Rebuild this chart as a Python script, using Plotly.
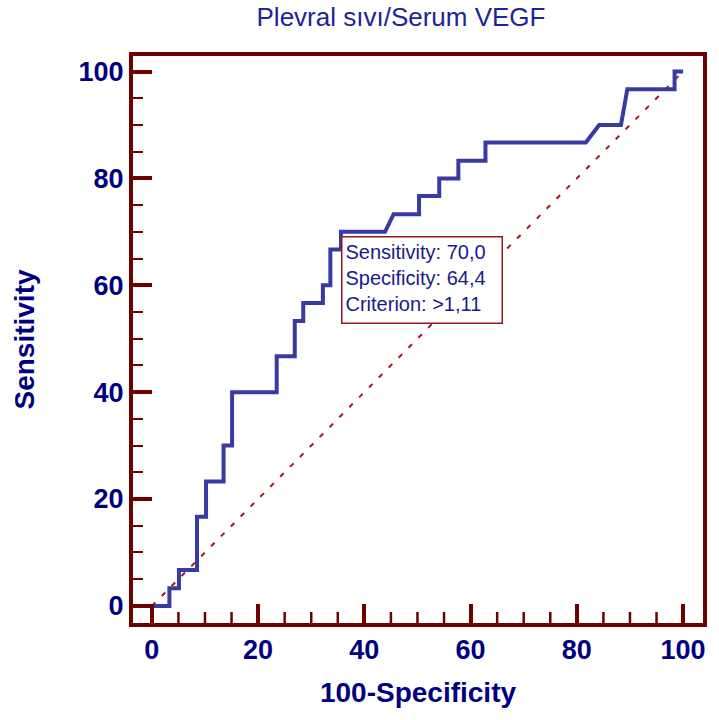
import plotly.graph_objects as go

# ROC curve (100-Specificity vs Sensitivity)
fpr = [0, 3.3, 3.3, 5.1, 5.1, 8.5, 8.5, 10.2, 10.2, 13.5, 13.5, 15.1, 15.1,
       23.5, 23.5, 26.9, 26.9, 28.5, 28.5, 32.2, 32.2, 33.6, 33.6, 35.6, 35.6,
       43.9, 45.5, 50.3, 50.3, 54.1, 54.1, 57.7, 57.7, 62.8, 62.8, 81.7, 84.2,
       88.3, 88.9, 89.5, 98.4, 98.4, 100]
tpr = [0, 0, 3.3, 3.3, 6.7, 6.7, 16.7, 16.7, 23.3, 23.3, 30, 30, 40,
       40, 46.7, 46.7, 53.3, 53.3, 56.7, 56.7, 60, 60, 66.7, 66.7, 70,
       70, 73.3, 73.3, 76.7, 76.7, 80, 80, 83.3, 83.3, 86.7, 86.7, 90,
       90, 93.3, 96.7, 96.7, 100, 100]

ref_x = [0, 100]
ref_y = [0, 100]

crit_sens = 70.0
crit_spec = 64.4
crit_label = ">1,11"

tick_vals = [0, 20, 40, 60, 80, 100]
minor_vals = [5, 10, 15, 25, 30, 35, 45, 50, 55, 65, 70, 75, 85, 90, 95]

title_text = "Plevral sıvı/Serum VEGF"
x_title = "100-Specificity"
y_title = "Sensitivity"

FRAME = "#6e0000"
NAVY = "#000080"
CURVE = "#3a3aa4"

X_RANGE = [-3.55, 103.75]
Y_RANGE = [-3.2, 102.9]
PLOT_H = 720 - 56 - 97
MINOR_LEN = 11

fig = go.Figure()
fig.add_trace(go.Scatter(x=ref_x, y=ref_y, mode="lines",
                         line=dict(color="#9b1a1a", width=2, dash="5px,9px"),
                         hoverinfo="skip", showlegend=False))
fig.add_trace(go.Scatter(x=fpr, y=tpr, mode="lines",
                         line=dict(color=CURVE, width=4),
                         showlegend=False))

# minor tick marks on the x axis (inside, every 5 units)
for v in minor_vals:
    fig.add_shape(type="line", xref="x", yref="paper", x0=v, x1=v,
                  y0=0, y1=MINOR_LEN / PLOT_H, line=dict(color=FRAME, width=2.5),
                  layer="above")

fmt = lambda v: f"{v:.1f}".replace(".", ",")
fig.add_annotation(
    x=100 - crit_spec, y=crit_sens, xref="x", yref="y",
    xanchor="left", yanchor="top", showarrow=False,
    text=(f"Sensitivity: {fmt(crit_sens)}<br>Specificity: {fmt(crit_spec)}"
          f"<br>Criterion: {crit_label.replace('>', '&gt;')}"),
    align="left", valign="top", width=153, height=79,
    borderpad=3, borderwidth=1.5, bordercolor="#8b1a1a", bgcolor="white",
    font=dict(family="Liberation Sans", size=20, color="#1a1a8c"),
    yshift=-4,
)

axis_common = dict(
    showgrid=False, zeroline=False, showline=True, mirror=True,
    linecolor=FRAME, linewidth=4,
    ticks="inside", ticklen=19, tickwidth=4, tickcolor=FRAME,
    tickvals=tick_vals,
    tickfont=dict(family="Liberation Sans", size=27, color=NAVY, weight=700),
)

fig.update_layout(
    width=719, height=720,
    margin=dict(l=133, r=13, t=56, b=97),
    plot_bgcolor="white", paper_bgcolor="white",
    title=dict(text=title_text, x=401 / 719, xanchor="center", y=1 - 17 / 720, yanchor="middle",
               font=dict(family="Liberation Sans", size=26, color="#22229a")),
    xaxis=dict(range=X_RANGE,
               title=dict(text=x_title, standoff=19,
                          font=dict(family="Liberation Sans", size=28, color=NAVY, weight=700)),
               **axis_common),
    yaxis=dict(range=Y_RANGE,
               title=dict(text=y_title, standoff=37,
                          font=dict(family="Liberation Sans", size=28, color=NAVY, weight=700)),
               minor=dict(ticks="inside", ticklen=10, tickwidth=2, tickcolor=FRAME,
                          tickvals=minor_vals, showgrid=False),
               **axis_common),
)

fig.write_html("out.html")
